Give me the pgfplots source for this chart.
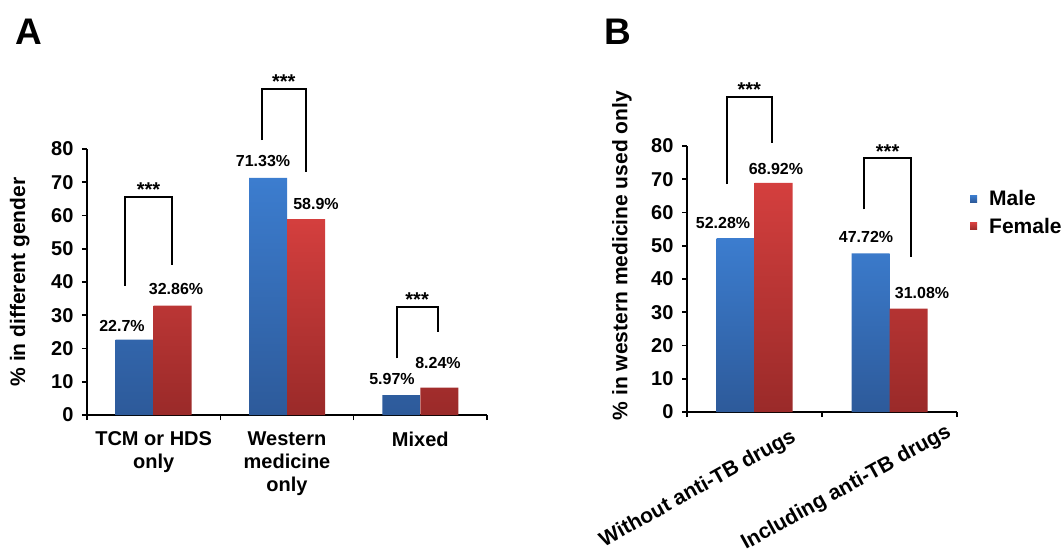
\documentclass[border=0pt]{standalone}
\usepackage{fontspec}
\setmainfont{Liberation Sans}
\usepackage{pgfplots}
\pgfplotsset{compat=1.18}
\definecolor{bluetop}{RGB}{60,125,207}
\definecolor{bluebot}{RGB}{45,90,154}
\definecolor{redtop}{RGB}{212,63,62}
\definecolor{redbot}{RGB}{154,42,41}
\newcommand{\tickfont}{\bfseries\fontsize{20}{23}\selectfont}
\newcommand{\valfont}{\bfseries\fontsize{16}{19}\selectfont}
\newcommand{\starfont}{\bfseries\fontsize{20}{22}\selectfont}
\pgfplotsset{
  panel/.style={
    scale only axis, clip=false,
    ymin=0, ymax=80, ytick={0,10,...,80},
    axis x line*=bottom, axis y line*=left,
    axis line style={line width=1.6pt, -},
    every tick/.style={line width=1.6pt, black},
    tick align=outside,
    major tick length=5pt,
    /pgf/number format/assume math mode=true,
    yticklabel style={font=\tickfont, xshift=-5pt},
    label style={font=\bfseries\fontsize{21}{25}\selectfont},
  },
  bracket/.style={black, line width=1.8pt, mark=none, forget plot},
}
\begin{document}
\begin{tikzpicture}
\path[use as bounding box] (0,0) rectangle (1064pt,555pt);
\node[anchor=base west, inner sep=0pt, font=\bfseries\fontsize{37}{40}\selectfont] at (15pt,510pt) {A};
\node[anchor=base west, inner sep=0pt, font=\bfseries\fontsize{37}{40}\selectfont] at (604pt,510pt) {B};

% ---------------- Panel A ----------------
\begin{axis}[panel,
  at={(87pt,140pt)}, anchor=south west,
  width=400pt, height=266pt,
  xmin=-0.5, xmax=2.5,
  xtick={-0.5,0.5,1.5,2.5},
  x tick label as interval,
  xticklabels={{TCM or HDS\\only},{Western\\medicine\\only},{Mixed}},
  xticklabel style={align=center, anchor=north, font=\tickfont, yshift=-8pt},
  ylabel={\% in different gender},
  ylabel style={at={(axis description cs:-0.168,0.5)}, anchor=center},
]
\addplot[ybar, bar width=38pt, bar shift=-19pt, draw=none, top color=bluetop, bottom color=bluebot]
  coordinates {(0,22.7) (1,71.33) (2,5.97)};
\addplot[ybar, bar width=38pt, bar shift=19pt, draw=none, top color=redtop, bottom color=redbot]
  coordinates {(0,32.86) (1,58.9) (2,8.24)};
% significance brackets
\addplot[bracket] coordinates {(-0.215,38.9) (-0.215,65.65) (0.1375,65.65) (0.1375,45.1)};
\addplot[bracket] coordinates {(0.81,82.7) (0.81,98.05) (1.1425,98.05) (1.1425,73.2)};
\addplot[bracket] coordinates {(1.8227,17.04) (1.8227,32.57) (2.13,32.57) (2.13,24.86)};
\node[anchor=base, font=\starfont] at (axis cs:-0.039,65.65) {***};
\node[anchor=base, font=\starfont] at (axis cs:0.976,98.05) {***};
\node[anchor=base, font=\starfont] at (axis cs:1.976,32.57) {***};
% value labels
\node[font=\valfont] at (axis cs:-0.2375,26.77) {22.7\%};
\node[font=\valfont] at (axis cs:0.1675,37.9) {32.86\%};
\node[font=\valfont] at (axis cs:0.82,76.4) {71.33\%};
\node[font=\valfont] at (axis cs:1.2175,63.46) {58.9\%};
\node[font=\valfont] at (axis cs:1.7875,10.83) {5.97\%};
\node[font=\valfont] at (axis cs:2.1325,15.64) {8.24\%};
\end{axis}

% ---------------- Panel B ----------------
\begin{axis}[panel,
  at={(687pt,143pt)}, anchor=south west,
  width=270pt, height=266pt,
  xmin=-0.5, xmax=1.5,
  xtick={-0.5,0.5,1.5},
  xticklabels={},
  ylabel={\% in western medicine used only},
  ylabel style={at={(axis description cs:-0.2407,0.588)}, anchor=center},
  legend style={at={(1.048,0.75)}, anchor=west, draw=none, fill=none,
    font=\bfseries\fontsize{21}{24}\selectfont, row sep=7pt, inner sep=0pt,
    /tikz/every odd column/.append style={column sep=10pt}},
  legend cell align=left,
]
\addplot[ybar, bar width=38pt, bar shift=-19pt, draw=none, top color=bluetop, bottom color=bluebot,
  legend image code/.code={\fill[bluetop!80!bluebot] (0pt,-3.5pt) rectangle (7pt,3.5pt);}]
  coordinates {(0,52.28) (1,47.72)};
\addlegendentry{Male}
\addplot[ybar, bar width=38pt, bar shift=19pt, draw=none, top color=redtop, bottom color=redbot,
  legend image code/.code={\fill[redtop!80!redbot] (0pt,-3.5pt) rectangle (7pt,3.5pt);}]
  coordinates {(0,68.92) (1,31.08)};
\addlegendentry{Female}
\addplot[bracket] coordinates {(-0.206,68.57) (-0.206,94.83) (0.1274,94.83) (0.1274,81.0)};
\addplot[bracket] coordinates {(0.8136,60.96) (0.8136,76.3) (1.159,76.3) (1.159,46.5)};
\node[anchor=base, font=\starfont] at (axis cs:-0.039,94.83) {***};
\node[anchor=base, font=\starfont] at (axis cs:0.986,76.3) {***};
\node[font=\valfont] at (axis cs:-0.2333,56.84) {52.28\%};
\node[font=\valfont] at (axis cs:0.159,73.23) {68.92\%};
\node[font=\valfont] at (axis cs:0.826,52.78) {47.72\%};
\node[font=\valfont] at (axis cs:1.2407,35.79) {31.08\%};
% rotated category labels
\node[rotate=29, anchor=base, font=\bfseries\fontsize{21}{24}\selectfont] at (axis cs:-0.40,-24.6) {Without anti-TB drugs};
\node[rotate=29, anchor=base, font=\bfseries\fontsize{21}{24}\selectfont] at (axis cs:0.70,-24.3) {Including anti-TB drugs};
\end{axis}
\end{tikzpicture}
\end{document}
